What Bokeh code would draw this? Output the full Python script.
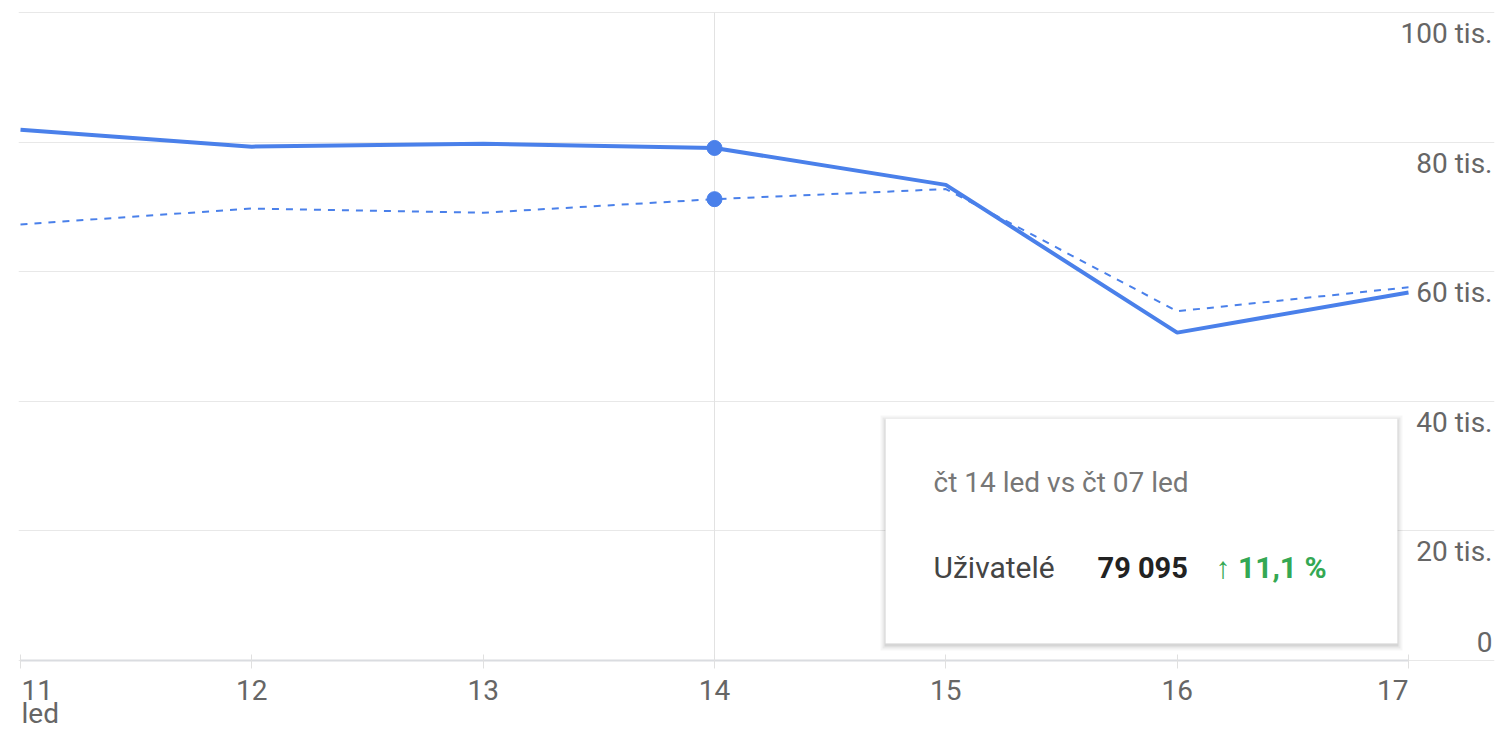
from bokeh.plotting import figure
from bokeh.models import (ColumnDataSource, LabelSet, Label, BoxAnnotation,
                          Grid, FixedTicker, LinearAxis, Range1d)
from bokeh.core.properties import value
from bokeh.embed import file_html
from bokeh.resources import INLINE

# ---------------- data ----------------
days = [11, 12, 13, 14, 15, 16, 17]
x_tick_labels = ["11", "12", "13", "14", "15", "16", "17"]
month_label = "led"
current_users = [81900, 79300, 79750, 79095, 73400, 50600, 56800]
previous_users = [67300, 69750, 69100, 71193, 72750, 53900, 57600]
y_ticks = [0, 20000, 40000, 60000, 80000, 100000]
y_tick_labels = ["0", "20 tis.", "40 tis.", "60 tis.", "80 tis.", "100 tis."]
hover_index = 3
tooltip_title = "čt 14 led vs čt 07 led"
metric_name = "Uživatelé"
metric_value = "79 095"
metric_change = "↑ 11,1 %"

# ---------------- layout constants ----------------
W, H = 1496, 730
X0_PX, X1_PX = 20, 1408          # pixel of first / last day
Y0_PX, Y100_PX = 660, 12         # pixel of 0 / 100k
FRAME_L, FRAME_R, FRAME_T, FRAME_B = 18, 1494, 8, 730
PX_PER_DAY = (X1_PX - X0_PX) / (days[-1] - days[0])
PX_PER_UNIT = (Y0_PX - Y100_PX) / (y_ticks[-1] - y_ticks[0])


def px2x(px):
    return days[0] + (px - X0_PX) / PX_PER_DAY


def py2y(py):
    return y_ticks[0] + (Y0_PX - py) / PX_PER_UNIT


BLUE = "#4a80ea"
FONT = "Roboto"
GREY_TXT = "#666666"
AX_FS = "28px"

p = figure(width=W, height=H, output_backend="svg", toolbar_location=None,
           x_axis_location=None, y_axis_location=None,
           x_range=Range1d(px2x(FRAME_L), px2x(FRAME_R)),
           y_range=Range1d(py2y(FRAME_B), py2y(FRAME_T)),
           min_border_left=FRAME_L, min_border_right=W - FRAME_R,
           min_border_top=FRAME_T, min_border_bottom=H - FRAME_B)
p.grid.visible = False
p.outline_line_color = None
p.background_fill_color = "white"
p.border_fill_color = "white"

# horizontal gridlines
p.add_layout(Grid(dimension=1, ticker=FixedTicker(ticks=y_ticks),
                  grid_line_color="#e8e8e8", grid_line_width=1))

# bottom axis line + ticks, fixed at y = 0 (labels drawn below with chosen alignment)
xaxis = LinearAxis(ticker=FixedTicker(ticks=days), bounds=(days[0], days[-1]),
                   fixed_location=y_ticks[0], axis_line_color="#dadce0", axis_line_width=2,
                   minor_tick_line_color=None, major_tick_line_color="#e0e0e0",
                   major_tick_in=6, major_tick_out=8, major_label_text_color=None)
p.add_layout(xaxis, "below")

# hover crosshair
p.segment(x0=[days[hover_index]], y0=[y_ticks[0]], x1=[days[hover_index]], y1=[y_ticks[-1]],
          line_color="#e2e2e2", line_width=1)

src = ColumnDataSource(dict(x=days, cur=current_users, prev=previous_users))
p.line("x", "prev", source=src, line_color=BLUE, line_width=2, line_dash="7 7")
p.line("x", "cur", source=src, line_color=BLUE, line_width=4)
p.scatter([days[hover_index]] * 2, [current_users[hover_index], previous_users[hover_index]],
          size=15, fill_color=BLUE, line_color=BLUE)

# y tick labels (right side, below their gridline; "0" above)
ysrc = ColumnDataSource(dict(y=y_ticks[1:], t=y_tick_labels[1:]))
p.add_layout(LabelSet(x=px2x(FRAME_R), y="y", text="t", source=ysrc, x_offset=-2, y_offset=-21,
                      text_align="right", text_baseline="middle", text_font=value(FONT),
                      text_font_size=AX_FS, text_color=GREY_TXT))
ysrc0 = ColumnDataSource(dict(y=y_ticks[:1], t=y_tick_labels[:1]))
p.add_layout(LabelSet(x=px2x(FRAME_R), y="y", text="t", source=ysrc0, x_offset=-2, y_offset=19,
                      text_align="right", text_baseline="middle", text_font=value(FONT),
                      text_font_size=AX_FS, text_color=GREY_TXT))

# x tick labels: first left-aligned, middle centred, last right-aligned
xl_common = dict(y=y_ticks[0], y_offset=-29, text_baseline="middle", text_font=value(FONT),
                 text_font_size=AX_FS, text_color=GREY_TXT)
p.add_layout(LabelSet(x="x", text="t", source=ColumnDataSource(dict(x=days[:1], t=x_tick_labels[:1])),
                      x_offset=1, text_align="left", **xl_common))
p.add_layout(LabelSet(x="x", text="t", source=ColumnDataSource(dict(x=days[1:-1], t=x_tick_labels[1:-1])),
                      text_align="center", **xl_common))
p.add_layout(LabelSet(x="x", text="t", source=ColumnDataSource(dict(x=days[-1:], t=x_tick_labels[-1:])),
                      text_align="right", **xl_common))
p.add_layout(Label(x=days[0], y=y_ticks[0], x_offset=1, y_offset=-53, text=month_label,
                   text_align="left", text_baseline="middle", text_font=FONT,
                   text_font_size=AX_FS, text_color=GREY_TXT))

# tooltip card with shadow
TL, TR, TT, TB = 885, 1397, 418, 643
for d, a in [(5, 0.035), (3, 0.05), (1, 0.08)]:
    p.add_layout(BoxAnnotation(left=px2x(TL - d), right=px2x(TR + d), top=py2y(TT - d + 2),
                               bottom=py2y(TB + d + 2), fill_color="black", fill_alpha=a,
                               line_color=None, level="annotation"))
p.add_layout(BoxAnnotation(left=px2x(TL), right=px2x(TR), top=py2y(TT), bottom=py2y(TB),
                           fill_color="white", fill_alpha=1, line_color="#dddddd",
                           line_width=1, level="annotation"))
p.add_layout(Label(x=px2x(933), y=py2y(482), text=tooltip_title, text_baseline="middle",
                   text_font=FONT, text_font_size="28px", text_color="#777777"))
p.add_layout(Label(x=px2x(933), y=py2y(567), text=metric_name, text_baseline="middle",
                   text_font=FONT, text_font_size="30px", text_color="#444444"))
p.add_layout(Label(x=px2x(1097), y=py2y(567), text=metric_value, text_baseline="middle",
                   text_font=FONT, text_font_size="29px", text_font_style="bold",
                   text_color="#222222"))
p.add_layout(Label(x=px2x(1215), y=py2y(567), text=metric_change, text_baseline="middle",
                   text_font=FONT, text_font_size="30px", text_font_style="bold",
                   text_color="#34a853"))

open("out.html", "w").write(file_html(p, INLINE))
